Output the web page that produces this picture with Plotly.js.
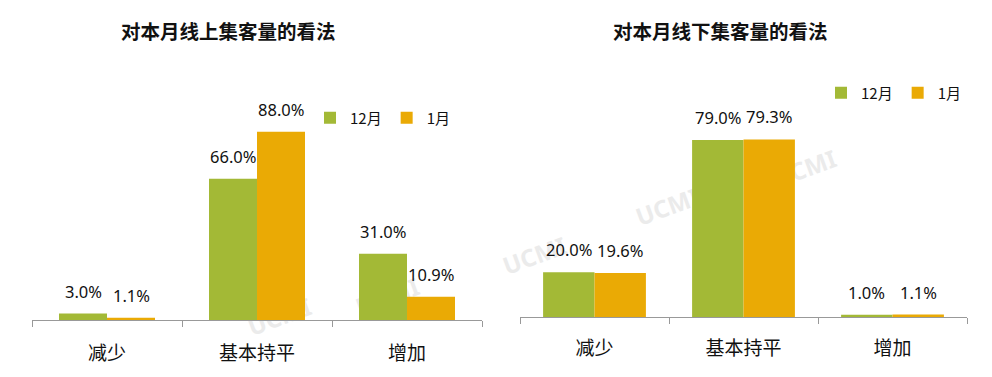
<!DOCTYPE html>
<html>
<head>
<meta charset="utf-8">
<script src="https://cdn.plot.ly/plotly-3.0.1.min.js"></script>
<style>html,body{margin:0;padding:0;background:#fff;}#chart{width:992px;height:377px;}</style>
</head>
<body>
<div id="chart"></div>
<script>
// ---- data ----
const categories = ['减少', '基本持平', '增加'];
const seriesNames = ['12月', '1月'];
const onlineDec = [3.0, 66.0, 31.0];
const onlineJan = [1.1, 88.0, 10.9];
const offlineDec = [20.0, 79.0, 1.0];
const offlineJan = [19.6, 79.3, 1.1];
const titles = ['对本月线上集客量的看法', '对本月线下集客量的看法'];

// ---- styles ----
const GREEN = '#A3B936';
const ORANGE = '#EAAA05';
const LATIN = 'Noto Sans, Noto Sans CJK SC, sans-serif';
const CJK = 'Noto Sans CJK SC, sans-serif';
const wL = 0.32, wR = 0.345;

function barTrace(vals, name, color, xa, ya, w, off, legendId, showleg) {
  return {
    type: 'bar', x: categories, y: vals, name: name,
    xaxis: xa, yaxis: ya, width: w, offset: off,
    marker: {color: color, line: {width: 0}},
    legend: legendId, showlegend: showleg, hoverinfo: 'skip'
  };
}

const data = [
  barTrace(onlineDec, seriesNames[0], GREEN, 'x', 'y', wL, -wL, 'legend', true),
  barTrace(onlineJan, seriesNames[1], ORANGE, 'x', 'y', wL, 0, 'legend', true),
  barTrace(offlineDec, seriesNames[0], GREEN, 'x2', 'y2', wR, -wR, 'legend2', true),
  barTrace(offlineJan, seriesNames[1], ORANGE, 'x2', 'y2', wR, 0, 'legend2', true)
];

const annotations = [];
function addLabels(vals, xref, yref, shift) {
  vals.forEach((v, i) => {
    annotations.push({
      xref: xref, yref: yref, x: i + shift, y: v,
      text: v.toFixed(1) + '%', showarrow: false,
      yanchor: 'bottom', xanchor: 'center', yshift: 9,
      font: {family: LATIN, size: 16.5, color: '#111'}
    });
  });
}
addLabels(onlineDec, 'x', 'y', -wL / 2);
addLabels(onlineJan, 'x', 'y', wL / 2);
addLabels(offlineDec, 'x2', 'y2', -wR / 2);
addLabels(offlineJan, 'x2', 'y2', wR / 2);

annotations.push({xref: 'paper', yref: 'paper', x: 228 / 992, y: 1 - 30 / 377, text: titles[0],
  showarrow: false, xanchor: 'center', yanchor: 'middle',
  font: {family: CJK, size: 19.5, color: '#111', weight: 'bold'}});
annotations.push({xref: 'paper', yref: 'paper', x: 720 / 992, y: 1 - 30 / 377, text: titles[1],
  showarrow: false, xanchor: 'center', yanchor: 'middle',
  font: {family: CJK, size: 19.5, color: '#111', weight: 'bold'}});

// watermarks (behind bars)
const wm = [[280, 318], [388, 298], [535, 257], [668, 208], [805, 170]];
const shapes = wm.map(p => ({
  type: 'rect', xref: 'paper', yref: 'paper', layer: 'below',
  x0: (p[0] - 40) / 992, x1: (p[0] + 40) / 992,
  y0: 1 - (p[1] + 15) / 377, y1: 1 - (p[1] - 15) / 377,
  line: {width: 0}, fillcolor: 'rgba(0,0,0,0)',
  label: {text: 'UCMI', textangle: -20, textposition: 'middle center',
    font: {family: 'Noto Sans, sans-serif', size: 24, color: '#ebebeb', weight: 'bold'}}
}));

function xAxis(domain, anchor, standoff) {
  return {
    domain: domain, anchor: anchor, type: 'category',
    showline: true, linecolor: '#999', linewidth: 1,
    ticks: 'outside', tickson: 'boundaries', ticklen: 6, tickcolor: '#999',
    showgrid: false, zeroline: false, fixedrange: true,
    ticklabelstandoff: standoff,
    tickfont: {family: CJK, size: 19, color: '#111'}
  };
}
function yAxis(domain, range, anchor) {
  return {domain: domain, range: range, anchor: anchor, visible: false,
    showgrid: false, zeroline: false, fixedrange: true};
}

const layout = {
  width: 992, height: 377,
  margin: {l: 0, r: 0, t: 0, b: 0},
  paper_bgcolor: '#fff', plot_bgcolor: 'rgba(0,0,0,0)',
  barmode: 'overlay',
  xaxis: xAxis([32 / 992, 482 / 992], 'y', 16),
  yaxis: yAxis([57 / 377, 277 / 377], [0, 102.8], 'x'),
  xaxis2: xAxis([520 / 992, 967 / 992], 'y2', 14),
  yaxis2: yAxis([60 / 377, 277 / 377], [0, 96.9], 'x2'),
  legend: {orientation: 'h', x: 455 / 992, xanchor: 'right', y: 1 - 118 / 377, yanchor: 'middle',
    font: {family: CJK, size: 15, color: '#111'}, itemwidth: 30, bgcolor: 'rgba(0,0,0,0)',
    traceorder: 'normal'},
  legend2: {orientation: 'h', x: 966 / 992, xanchor: 'right', y: 1 - 93 / 377, yanchor: 'middle',
    font: {family: CJK, size: 15, color: '#111'}, itemwidth: 30, bgcolor: 'rgba(0,0,0,0)',
    traceorder: 'normal'},
  annotations: annotations,
  shapes: shapes
};

Plotly.newPlot('chart', data, layout, {displayModeBar: false, staticPlot: true});
</script>
</body>
</html>
